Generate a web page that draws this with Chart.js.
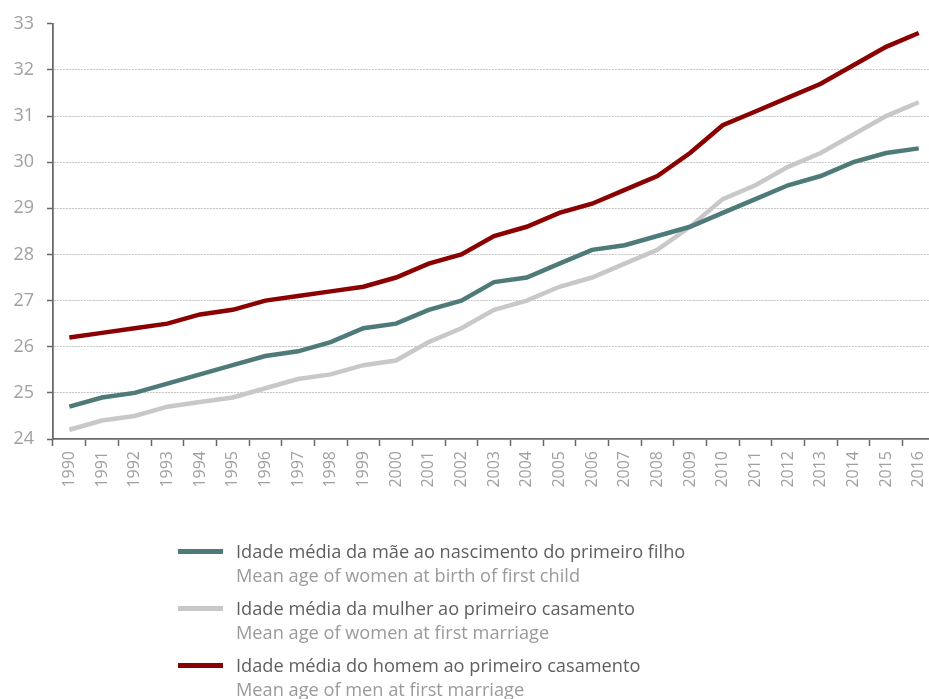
<!DOCTYPE html>
<html>
<head>
<meta charset="utf-8">
<script src="https://cdn.jsdelivr.net/npm/chart.js@4.4.1/dist/chart.umd.min.js"></script>
<style>
  html, body { margin: 0; padding: 0; background: #fff; overflow: hidden; width: 929px; height: 699px; }
  #wrap { position: absolute; left: 0; top: 0; width: 943px; height: 520px; }
  #legend { position: absolute; left: 0; top: 0; width: 929px; height: 699px; pointer-events: none;
            font-family: "Open Sans", sans-serif; }
  .sw { position: absolute; left: 178px; width: 45px; height: 5px; }
  .t1 { position: absolute; left: 236px; font-size: 18.2px; color: #5f5f5f; white-space: nowrap; line-height: 24px; }
  .t2 { position: absolute; left: 236px; font-size: 18.2px; color: #9a9a9a; white-space: nowrap; line-height: 24px; }
</style>
</head>
<body>
<div id="wrap"><canvas id="c"></canvas></div>
<div id="legend"></div>
<script>
const years = ["1990","1991","1992","1993","1994","1995","1996","1997","1998","1999","2000","2001","2002","2003","2004","2005","2006","2007","2008","2009","2010","2011","2012","2013","2014","2015","2016"];
const motherFirstChild = [24.7,24.9,25.0,25.2,25.4,25.6,25.8,25.9,26.1,26.4,26.5,26.8,27.0,27.4,27.5,27.8,28.1,28.2,28.4,28.6,28.9,29.2,29.5,29.7,30.0,30.2,30.3];
const womenFirstMarriage = [24.2,24.4,24.5,24.7,24.8,24.9,25.1,25.3,25.4,25.6,25.7,26.1,26.4,26.8,27.0,27.3,27.5,27.8,28.1,28.6,29.2,29.5,29.9,30.2,30.6,31.0,31.3];
const menFirstMarriage = [26.2,26.3,26.4,26.5,26.7,26.8,27.0,27.1,27.2,27.3,27.5,27.8,28.0,28.4,28.6,28.9,29.1,29.4,29.7,30.2,30.8,31.1,31.4,31.7,32.1,32.5,32.8];
const seriesNamesPT = ["Idade média da mãe ao nascimento do primeiro filho","Idade média da mulher ao primeiro casamento","Idade média do homem ao primeiro casamento"];
const seriesNamesEN = ["Mean age of women at birth of first child","Mean age of women at first marriage","Mean age of men at first marriage"];
const seriesColors = ["#4e7b79","#c8c8c8","#8b0000"];
const yTicks = [24,25,26,27,28,29,30,31,32,33];

const seriesData = [motherFirstChild, womenFirstMarriage, menFirstMarriage];
const FONT = '"Open Sans", sans-serif';

new Chart(document.getElementById('c'), {
  type: 'line',
  data: {
    labels: years,
    datasets: seriesData.map((d, i) => ({
      label: seriesNamesPT[i],
      data: d,
      borderColor: seriesColors[i],
      backgroundColor: seriesColors[i],
      borderWidth: 4.5,
      pointRadius: 0,
      tension: 0,
      fill: false
    }))
  },
  options: {
    responsive: true,
    maintainAspectRatio: false,
    animation: false,
    layout: { padding: { top: 21, right: 4, left: 0, bottom: 0 } },
    plugins: { legend: { display: false }, tooltip: { enabled: false } },
    scales: {
      x: {
        offset: true,
        grid: { display: true, offset: true, drawOnChartArea: false, drawTicks: true, tickLength: 7, tickColor: '#666', tickWidth: 1.5 },
        border: { display: true, color: '#6a6a6a', width: 1.8 },
        ticks: { color: '#a0a0a0', font: { family: FONT, size: 16 }, minRotation: 90, maxRotation: 90, autoSkip: false, padding: 5 },
        afterFit: (s) => { s.height = 81; }
      },
      y: {
        min: 24, max: 33,
        afterBuildTicks: (s) => { s.ticks = yTicks.map(v => ({ value: v })); },
        grid: {
          color: (ctx) => (ctx.tick && (ctx.tick.value === 33 || ctx.tick.value === 24)) ? 'rgba(0,0,0,0)' : '#c4c4c4',
          lineWidth: 1,
          tickColor: '#666', tickWidth: 1.5, tickLength: 6
        },
        border: { display: true, color: '#6a6a6a', width: 1.8, dash: [2, 1] },
        ticks: { color: '#a0a0a0', font: { family: FONT, size: 18 }, padding: 13 },
        afterFit: (s) => { s.width = 53; }
      }
    }
  }
});

const lg = document.getElementById('legend');
const baseY = 551;
seriesNamesPT.forEach((name, i) => {
  const y = baseY + i * 57;
  const sw = document.createElement('div');
  sw.className = 'sw'; sw.style.top = (y - 2.5) + 'px'; sw.style.background = seriesColors[i];
  lg.appendChild(sw);
  const t1 = document.createElement('div');
  t1.className = 't1'; t1.style.top = (y - 12) + 'px'; t1.textContent = name;
  lg.appendChild(t1);
  const t2 = document.createElement('div');
  t2.className = 't2'; t2.style.top = (y + 12) + 'px'; t2.textContent = seriesNamesEN[i];
  lg.appendChild(t2);
});
</script>
</body>
</html>
